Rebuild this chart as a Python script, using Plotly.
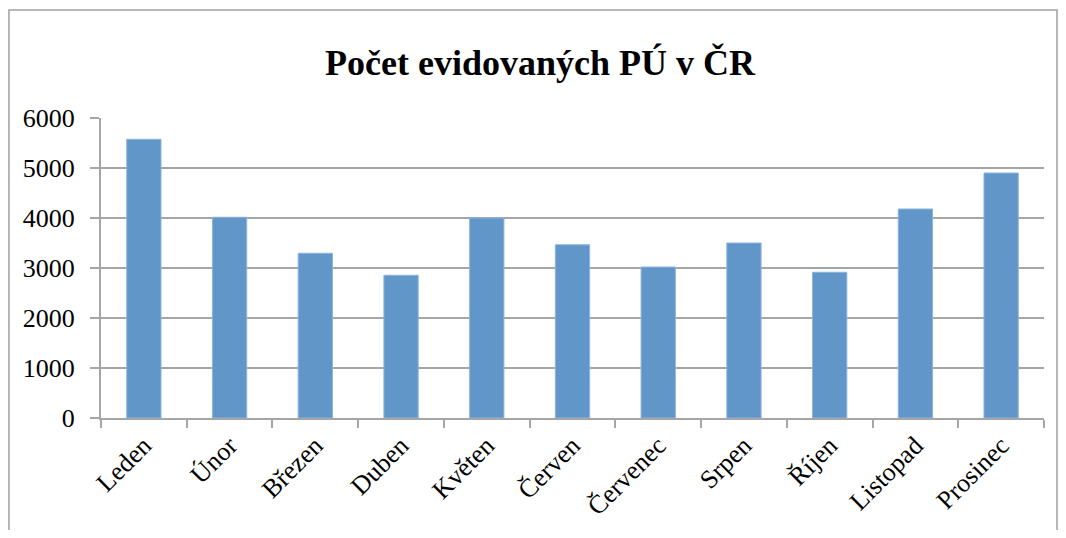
import plotly.graph_objects as go

months = ["Leden", "Únor", "Březen", "Duben", "Květen", "Červen",
          "Červenec", "Srpen", "Říjen", "Listopad", "Prosinec"]
counts = [5575, 4015, 3295, 2855, 4000, 3465, 3020, 3500, 2915, 4180, 4900]
y_ticks = [0, 1000, 2000, 3000, 4000, 5000, 6000]
title_text = "Počet evidovaných PÚ v ČR"

FONT = "Times New Roman, Liberation Serif, serif"
GRID = "#A6A6A6"

fig = go.Figure()
fig.add_trace(go.Bar(
    x=months, y=counts,
    marker=dict(color="#6196C9", line=dict(color="#8DB4DD", width=1)),
    width=0.4,
))

# page body has an 8px margin; figure sized to fit inside the window
W, H = 1050, 522
fig.update_layout(
    width=W, height=H,
    margin=dict(l=93, r=14, t=110, b=112, autoexpand=False),
    paper_bgcolor="white", plot_bgcolor="white",
    showlegend=False,
    title=dict(text="<b>" + title_text + "</b>", x=532 / W, xref="container", xanchor="center",
               y=1 - 54 / H, yref="container", yanchor="middle",
               font=dict(family=FONT, size=36, color="black")),
    font=dict(family=FONT, color="black"),
)

fig.update_xaxes(
    type="category", tickson="boundaries", ticks="outside", ticklen=8,
    tickcolor=GRID, tickwidth=2, showline=True, linecolor=GRID, linewidth=2,
    tickangle=-45, tickfont=dict(family=FONT, size=26, color="black"),
    showgrid=False, range=[-0.5, 10.5], automargin=False,
)
fig.update_yaxes(
    range=[0, 6000], tickvals=y_ticks, ticktext=[str(v) for v in y_ticks],
    ticks="outside", ticklen=9, tickcolor=GRID, tickwidth=2,
    showline=True, linecolor=GRID, linewidth=2,
    showgrid=True, gridcolor=GRID, gridwidth=2, zeroline=False,
    tickfont=dict(family=FONT, size=26, color="black"),
    ticklabelstandoff=10, automargin=False,
)

# chart-area border
fig.add_shape(type="rect", xref="paper", yref="paper",
              x0=-0.0976, x1=1.0138, y0=-0.5, y1=1.36,
              line=dict(color="#A0A0A0", width=1.5), layer="below")

fig.write_html("out.html")
